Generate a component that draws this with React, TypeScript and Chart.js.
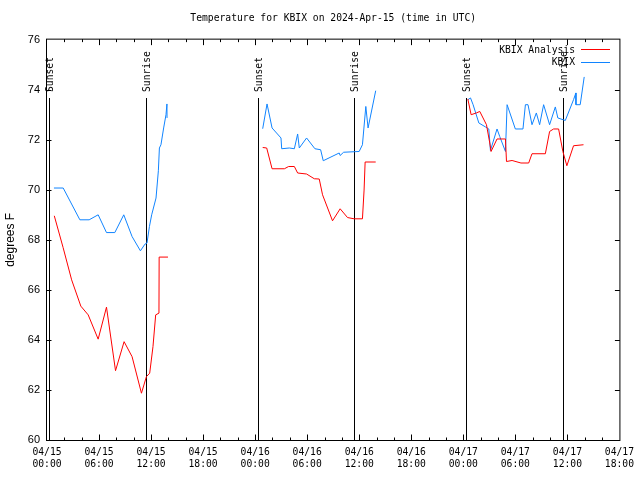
import { useEffect, useRef } from "react";
import { Chart, registerables } from "chart.js";

Chart.register(...registerables);

const titleText = "Temperature for KBIX on 2024-Apr-15 (time in UTC)";
const yAxisLabel = "degrees F";

// x axis: hours since 2024-04-15 00:00 UTC
const tickDates = ["04/15", "04/15", "04/15", "04/15", "04/16", "04/16", "04/16", "04/16", "04/17", "04/17", "04/17", "04/17"];
const tickTimes = ["00:00", "06:00", "12:00", "18:00", "00:00", "06:00", "12:00", "18:00", "00:00", "06:00", "12:00", "18:00"];

const sunHours = [0.26, 11.38, 24.3, 35.45, 48.33, 59.48];
const sunLabels = ["Sunset", "Sunrise", "Sunset", "Sunrise", "Sunset", "Sunrise"];
const sunLineTop = 73.68;

// KBIX observations
const kbixHours1 = [0.8, 1.87, 3.79, 4.86, 5.9, 6.86, 7.82, 8.85, 9.81, 10.77, 11.3, 11.53, 11.81, 12.07, 12.57, 12.84, 12.96, 13.14, 13.45, 13.72, 13.83, 13.84];
const kbixTemps1 = [70.07, 70.07, 68.8, 68.8, 69.0, 68.29, 68.29, 69.0, 68.13, 67.56, 67.83, 67.87, 68.53, 69.0, 69.67, 70.76, 71.67, 71.8, 72.47, 73.0, 73.43, 72.87];
const kbixHours2 = [24.87, 25.37, 25.95, 26.98, 27.06, 27.94, 28.52, 28.9, 29.09, 29.93, 30.89, 31.55, 31.85, 33.69, 33.8, 34.2, 35.99, 36.37, 36.76, 37.02, 37.9];
const kbixTemps2 = [72.44, 73.43, 72.47, 72.07, 71.64, 71.67, 71.64, 72.23, 71.67, 72.07, 71.64, 71.6, 71.16, 71.47, 71.37, 71.5, 71.53, 71.8, 73.33, 72.47, 73.96];
const kbixHours3 = [48.53, 48.83, 49.13, 49.79, 50.56, 50.94, 51.13, 51.89, 52.2, 52.86, 53.05, 54.0, 54.88, 55.16, 55.46, 55.92, 56.42, 56.8, 57.26, 57.95, 58.61, 58.9, 59.76, 60.71, 60.98, 60.99, 61.48, 61.94];
const kbixTemps3 = [73.6, 73.67, 73.4, 72.67, 72.51, 72.43, 71.57, 72.43, 72.13, 71.53, 73.4, 72.43, 72.43, 73.4, 73.4, 72.6, 73.07, 72.6, 73.4, 72.6, 73.31, 72.87, 72.77, 73.6, 73.87, 73.4, 73.4, 74.51];

// KBIX analysis
const anaHours1 = [0.84, 1.85, 2.84, 3.9, 4.75, 5.9, 6.86, 7.9, 8.89, 9.81, 10.89, 11.46, 11.84, 12.22, 12.53, 12.91, 12.93, 13.95];
const anaTemps1 = [68.96, 67.7, 66.4, 65.35, 65.0, 64.03, 65.31, 62.77, 63.93, 63.33, 61.87, 62.53, 62.67, 63.73, 65.0, 65.07, 67.31, 67.31];
const anaHours2 = [24.87, 25.33, 25.95, 27.37, 27.86, 28.52, 28.9, 29.93, 30.82, 31.39, 31.77, 32.92, 33.8, 34.65, 35.41, 36.37, 36.56, 36.68, 37.9];
const anaTemps2 = [71.69, 71.67, 70.84, 70.84, 70.93, 70.93, 70.67, 70.63, 70.44, 70.43, 69.8, 68.76, 69.24, 68.89, 68.84, 68.84, 69.99, 71.11, 71.11];
const anaHours3 = [48.52, 48.9, 49.5, 49.9, 50.67, 51.05, 51.2, 51.89, 52.86, 52.98, 53.62, 54.65, 55.54, 55.92, 57.46, 57.95, 58.41, 58.99, 59.48, 59.94, 60.71, 61.86];
const anaTemps3 = [73.63, 73.0, 73.07, 73.13, 72.6, 71.87, 71.53, 72.03, 72.03, 71.13, 71.17, 71.07, 71.07, 71.44, 71.44, 72.33, 72.43, 72.43, 71.53, 70.96, 71.76, 71.8];

const MONO = "'DejaVu Sans Mono', 'Liberation Mono', monospace";
const SANS = "'Liberation Sans', Arial, sans-serif";
const RED = "#ff0000";
const BLUE = "rgb(16,132,255)";

function joinDays(parts: [number[], number[]][]) {
  const out: { x: number; y: number | null }[] = [];
  parts.forEach(([hs, ts], i) => {
    if (i > 0) out.push({ x: hs[0] - 0.01, y: null });
    hs.forEach((h, j) => out.push({ x: h, y: ts[j] }));
  });
  return out;
}

const decorPlugin = {
  id: "decor",
  beforeDatasetsDraw(chart: any) {
    const { ctx, chartArea: a, scales } = chart;
    const x = scales.x, y = scales.y;
    ctx.save();
    ctx.strokeStyle = "#000";
    ctx.lineWidth = 1;
    const top = Math.round(y.getPixelForValue(sunLineTop));
    sunHours.forEach((h, i) => {
      const px = Math.round(x.getPixelForValue(h)) + 0.5;
      ctx.beginPath();
      ctx.moveTo(px, top);
      ctx.lineTo(px, a.bottom);
      ctx.stroke();
      ctx.save();
      ctx.translate(px + 1, top - 6);
      ctx.rotate(-Math.PI / 2);
      ctx.fillStyle = "#000";
      ctx.font = "9.7px " + MONO;
      ctx.textAlign = "left";
      ctx.textBaseline = "middle";
      ctx.fillText(sunLabels[i], 0, 0);
      ctx.restore();
    });
    ctx.restore();
  },
  afterDraw(chart: any) {
    const { ctx, chartArea: a, scales } = chart;
    const x = scales.x, y = scales.y;
    ctx.save();
    ctx.strokeStyle = "#000";
    ctx.lineWidth = 1;
    const L = a.left - 0.5, R = a.right + 0.5, T = a.top - 0.5, B = a.bottom + 0.5;
    ctx.strokeRect(L, T, R - L, B - T);
    ctx.beginPath();
    for (let h = 2; h < 66; h += 2) {
      const px = Math.round(x.getPixelForValue(h)) + 0.5;
      const len = h % 6 === 0 ? 6 : 3;
      ctx.moveTo(px, B);
      ctx.lineTo(px, B - len);
      ctx.moveTo(px, T);
      ctx.lineTo(px, T + len);
    }
    for (let v = 62; v < 76; v += 2) {
      const py = Math.round(y.getPixelForValue(v)) + 0.5;
      ctx.moveTo(L, py);
      ctx.lineTo(L + 5, py);
      ctx.moveTo(R, py);
      ctx.lineTo(R - 5, py);
    }
    ctx.stroke();

    // legend
    ctx.font = "9.7px " + MONO;
    ctx.textAlign = "right";
    ctx.textBaseline = "middle";
    const rows = [50, 62.5];
    chart.data.datasets.forEach((ds: any, i: number) => {
      const ry = rows[i];
      ctx.fillStyle = "#000";
      ctx.fillText(ds.label, 575, ry);
      ctx.strokeStyle = ds.borderColor;
      ctx.beginPath();
      ctx.moveTo(581, Math.round(ry) - 0.5);
      ctx.lineTo(610, Math.round(ry) - 0.5);
      ctx.stroke();
    });
    ctx.restore();
  },
};

export default function App() {
  const ref = useRef<HTMLCanvasElement>(null);

  useEffect(() => {
    if (!ref.current) return;
    const chart = new Chart(ref.current, {
      type: "line",
      data: {
        datasets: [
          {
            label: "KBIX Analysis",
            data: joinDays([[anaHours1, anaTemps1], [anaHours2, anaTemps2], [anaHours3, anaTemps3]]) as any,
            borderColor: RED,
            borderWidth: 1,
            pointRadius: 0,
            spanGaps: false,
            tension: 0,
          },
          {
            label: "KBIX",
            data: joinDays([[kbixHours1, kbixTemps1], [kbixHours2, kbixTemps2], [kbixHours3, kbixTemps3]]) as any,
            borderColor: BLUE,
            borderWidth: 1,
            pointRadius: 0,
            spanGaps: false,
            tension: 0,
          },
        ],
      },
      options: {
        responsive: false,
        animation: false,
        events: [],
        layout: { padding: { left: 0, right: 19, top: 0, bottom: 0 } },
        plugins: {
          legend: { display: false },
          tooltip: { enabled: false },
          title: {
            display: true,
            fullSize: false,
            text: titleText,
            color: "#000",
            font: { family: MONO, size: 9.7, weight: "normal" },
            padding: { top: 13, bottom: 15 },
          },
        },
        scales: {
          x: {
            type: "linear",
            min: 0,
            max: 66,
            afterFit: (s: any) => {
              s.height = 40;
            },
            grid: { display: false, drawTicks: false },
            border: { display: false },
            ticks: {
              stepSize: 6,
              autoSkip: false,
              maxRotation: 0,
              minRotation: 0,
              padding: 6,
              color: "#000",
              font: { family: MONO, size: 9.7, lineHeight: 1.3 },
              callback: (v: any) => {
                const i = Math.round(Number(v) / 6);
                return [tickDates[i], tickTimes[i]];
              },
            },
          },
          y: {
            type: "linear",
            min: 60,
            max: 76,
            afterFit: (s: any) => {
              s.width = 47;
            },
            grid: { display: false, drawTicks: false },
            border: { display: false },
            ticks: {
              stepSize: 2,
              padding: 7,
              color: "#000",
              font: { family: SANS, size: 11 },
            },
            title: {
              display: true,
              text: yAxisLabel,
              color: "#000",
              font: { family: SANS, size: 12 },
              padding: { top: 3, bottom: 0 },
            },
          },
        },
      },
      plugins: [decorPlugin],
    });
    return () => chart.destroy();
  }, []);

  return (
    <div style={{ position: "fixed", left: 0, top: 0, width: 640, height: 480, background: "#fff" }}>
      <canvas ref={ref} width={640} height={480} style={{ display: "block" }} />
    </div>
  );
}
